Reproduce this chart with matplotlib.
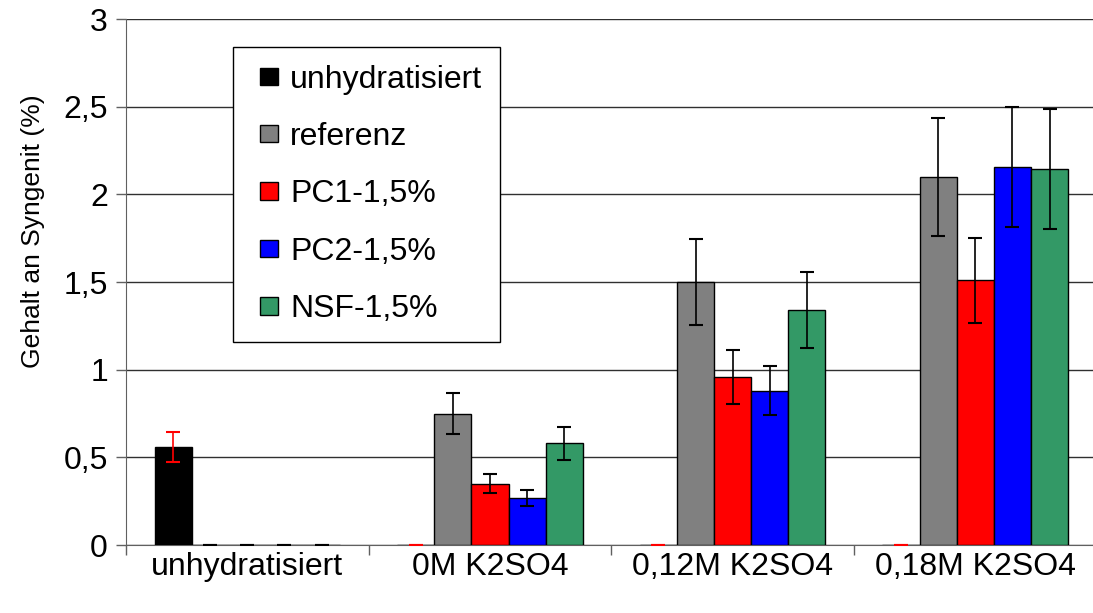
import matplotlib
matplotlib.use('Agg')
import matplotlib.pyplot as plt
from matplotlib.legend_handler import HandlerPatch
from matplotlib.patches import Rectangle
from matplotlib.container import BarContainer
import numpy as np

plt.rcParams['font.family'] = ['Liberation Sans', 'DejaVu Sans']

groups = ['unhydratisiert', '0M K2SO4', '0,12M K2SO4', '0,18M K2SO4']
series = ['unhydratisiert', 'referenz', 'PC1-1,5%', 'PC2-1,5%', 'NSF-1,5%']
colors = ['#000000', '#808080', '#ff0000', '#0000ff', '#339966']
err_colors = ['#ff0000', 'black', 'black', 'black', 'black']

# values per series, one entry per group
unhydratisiert = [0.56, 0.0, 0.0, 0.0]
referenz = [0.0, 0.75, 1.50, 2.10]
pc1 = [0.0, 0.35, 0.96, 1.51]
pc2 = [0.0, 0.27, 0.88, 2.155]
nsf = [0.0, 0.58, 1.34, 2.145]

unhydratisiert_err = [0.087, 0.0, 0.0, 0.0]
referenz_err = [0.0, 0.117, 0.243, 0.336]
pc1_err = [0.0, 0.056, 0.154, 0.242]
pc2_err = [0.0, 0.046, 0.14, 0.342]
nsf_err = [0.0, 0.094, 0.216, 0.34]

values = [unhydratisiert, referenz, pc1, pc2, nsf]
errors = [unhydratisiert_err, referenz_err, pc1_err, pc2_err, nsf_err]


def square_right(legend, orig_handle, xdescent, ydescent, width, height, fontsize):
    # square legend key pushed to the right end of the handle box
    return Rectangle((-xdescent + width - height, -ydescent), height, height)


def first_child(legend_handle, orig_handle):
    legend_handle.update_from(orig_handle.patches[0])


fig = plt.figure(figsize=(10.93, 6.13), dpi=100)
ax = fig.add_axes([0.1153, 0.1109, 0.888, 0.858])

x = np.arange(len(groups)) + 0.5
width = 0.153
for i in range(len(series)):
    pos = x + (i - 2) * width
    ax.bar(pos, values[i], width=width, color=colors[i], edgecolor='black',
           linewidth=1, label=series[i], zorder=3)
    ax.errorbar(pos, values[i], yerr=errors[i], fmt='none', ecolor=err_colors[i],
                elinewidth=1.2, capsize=5, capthick=1.5, zorder=4)

ax.set_xlim(0, 4)
ax.set_ylim(0, 3)
ax.set_yticks(np.arange(0, 3.01, 0.5))
ax.set_yticklabels(['0', '0,5', '1', '1,5', '2', '2,5', '3'])
ax.yaxis.grid(True, color='#303030', linewidth=1, zorder=0)

ax.set_xticks(x)
ax.set_xticklabels(groups)
ax.set_xticks(np.arange(0, 5), minor=True)
ax.tick_params(axis='x', which='major', length=0, pad=5, labelsize=23)
ax.tick_params(axis='x', which='minor', length=7, width=1, color='#606060')
ax.tick_params(axis='y', which='major', length=7, width=1, pad=6, labelsize=23, color='#606060')

for s in ['top', 'right']:
    ax.spines[s].set_visible(False)
ax.spines['left'].set_color('#606060')
ax.spines['bottom'].set_color('#606060')

ax.set_ylabel('Gehalt an Syngenit (%)', fontsize=19)
ax.yaxis.set_label_coords(-0.083, 0.596)

leg = ax.legend(loc='upper left', bbox_to_anchor=(0.110, 0.947), borderaxespad=0,
                fontsize=23, frameon=True, fancybox=False, edgecolor='black',
                framealpha=1, handlelength=0.85, handleheight=0.45,
                handletextpad=0.4, labelspacing=0.86, borderpad=0.55,
                handler_map={BarContainer: HandlerPatch(patch_func=square_right,
                                                        update_func=first_child)})
leg.get_frame().set_linewidth(1)

plt.savefig('out.png', dpi=100)
